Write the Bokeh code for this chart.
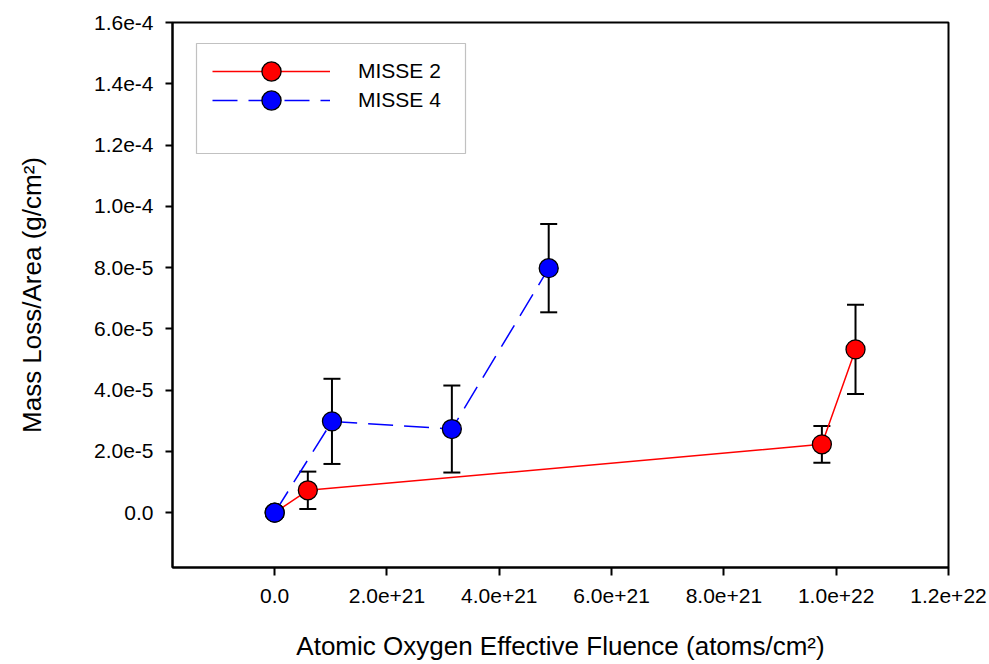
from bokeh.plotting import figure
from bokeh.models import (ColumnDataSource, Whisker, TeeHead, Range1d, FixedTicker,
                          Legend, LegendItem, BoxAnnotation)
from bokeh.embed import file_html
from bokeh.resources import INLINE

# ---- data ----
misse2_x = [0.0, 5.9e20, 9.745e21, 1.0344e22]
misse2_y = [0.0, 7.3e-6, 2.23e-5, 5.33e-5]
misse2_err = [0.0, 6.1e-6, 6.0e-6, 1.455e-5]

misse4_x = [0.0, 1.02e21, 3.155e21, 4.88e21]
misse4_y = [0.0, 2.98e-5, 2.73e-5, 7.98e-5]
misse4_err = [0.0, 1.39e-5, 1.42e-5, 1.44e-5]

series_names = ["MISSE 2", "MISSE 4"]

x_ticks = [0.0, 2e21, 4e21, 6e21, 8e21, 1e22, 1.2e22]
x_tick_labels = ["0.0", "2.0e+21", "4.0e+21", "6.0e+21", "8.0e+21", "1.0e+22", "1.2e+22"]
y_ticks = [0.0, 2e-5, 4e-5, 6e-5, 8e-5, 1e-4, 1.2e-4, 1.4e-4, 1.6e-4]
y_tick_labels = ["0.0", "2.0e-5", "4.0e-5", "6.0e-5", "8.0e-5", "1.0e-4", "1.2e-4", "1.4e-4", "1.6e-4"]

x_title = "Atomic Oxygen Effective Fluence (atoms/cm\u00b2)"
y_title = "Mass Loss/Area (g/cm\u00b2)"

FONT = "Liberation Sans"

p = figure(width=989, height=664, output_backend="svg", toolbar_location=None,
           x_range=Range1d(-1.82e21, 1.2e22), y_range=Range1d(-1.79e-5, 1.6e-4),
           min_border_left=172, min_border_right=41, min_border_top=22, min_border_bottom=97)

p.grid.visible = False
p.outline_line_color = "black"
p.outline_line_width = 2
p.background_fill_color = "white"
p.border_fill_color = "white"

for ax, ticks, labels, title in ((p.xaxis[0], x_ticks, x_tick_labels, x_title),
                                 (p.yaxis[0], y_ticks, y_tick_labels, y_title)):
    ax.ticker = FixedTicker(ticks=ticks)
    ax.major_label_overrides = dict(zip(ticks, labels))
    ax.axis_label = title
    ax.axis_label_text_font = FONT
    ax.axis_label_text_font_size = "26px"
    ax.axis_label_text_font_style = "normal"
    ax.axis_label_text_color = "black"
    ax.major_label_text_font = FONT
    ax.major_label_text_font_size = "21px"
    ax.major_label_text_color = "black"
    ax.axis_line_width = 2
    ax.axis_line_color = "black"
    ax.major_tick_line_width = 2
    ax.major_tick_line_color = "black"
    ax.major_tick_in = 0
    ax.minor_tick_in = 0
    ax.minor_tick_out = 0
    ax.major_label_standoff = 12

p.xaxis.major_tick_out = 8
p.yaxis.major_tick_out = 7
p.xaxis.major_label_standoff = 13
p.xaxis.axis_label_standoff = 25
p.yaxis.axis_label_standoff = 44

# error bars
for xs, ys, es in ((misse2_x, misse2_y, misse2_err), (misse4_x, misse4_y, misse4_err)):
    src = ColumnDataSource(dict(x=xs, upper=[y + e for y, e in zip(ys, es)],
                                lower=[y - e for y, e in zip(ys, es)]))
    w = Whisker(source=src, base="x", upper="upper", lower="lower", dimension="height",
                line_color="black", line_width=2, level="underlay",
                upper_head=TeeHead(size=17, line_color="black", line_width=2),
                lower_head=TeeHead(size=17, line_color="black", line_width=2))
    p.add_layout(w)

r_line = p.line(misse2_x, misse2_y, line_color="red", line_width=1.5)
r_pts = p.scatter(misse2_x, misse2_y, size=19, fill_color="red", line_color="black", line_width=1.3)
b_line = p.line(misse4_x, misse4_y, line_color="blue", line_width=1.5, line_dash="25 11")
b_pts = p.scatter(misse4_x, misse4_y, size=19, fill_color="blue", line_color="black", line_width=1.3)

# legend frame
box = BoxAnnotation(left=24, right=293, bottom=414, top=524,
                    left_units="screen", right_units="screen",
                    bottom_units="screen", top_units="screen",
                    fill_alpha=0, line_color="#333333", line_width=1.2)
p.add_layout(box)

# one single-row legend per series (so that the marker can be full size)
for name, rends, loc in ((series_names[0], [r_line, r_pts], (40, 472)),
                         (series_names[1], [b_line, b_pts], (40, 443))):
    leg = Legend(items=[LegendItem(label=name, renderers=rends)],
                 location=loc, glyph_width=118, glyph_height=48, spacing=0,
                 padding=0, margin=0, label_standoff=28,
                 border_line_color=None, background_fill_alpha=0,
                 label_text_font=FONT, label_text_font_size="21px", label_text_color="black")
    p.add_layout(leg)

open("out.html", "w").write(file_html(p, INLINE))
